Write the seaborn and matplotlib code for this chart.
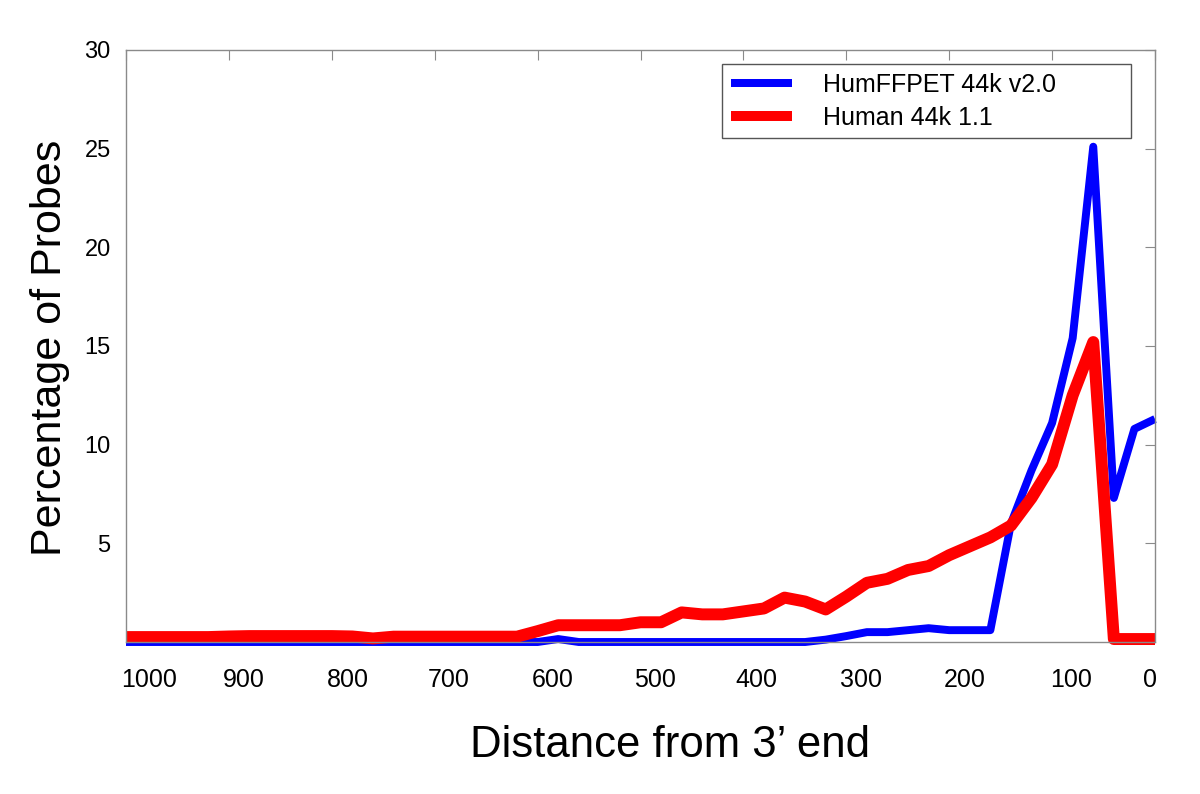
import matplotlib
matplotlib.use("Agg")
import matplotlib.pyplot as plt
import matplotlib.transforms as mtransforms
import pandas as pd
import seaborn as sns

# ---------------- data ----------------
distance = [0, 20, 40, 60, 80, 100, 120, 140, 160, 180,
            200, 220, 240, 260, 280, 300, 320, 340, 360, 380,
            400, 420, 440, 460, 480, 500, 520, 540, 560, 580,
            600, 620, 640, 660, 680, 700, 720, 740, 760, 780,
            800, 820, 840, 860, 880, 900, 920, 940, 960, 980, 1000]

humffpet_v2 = [11.3, 10.8, 7.3, 25.1, 15.4, 11.1, 8.7, 6.0, 0.6, 0.6,
               0.6, 0.7, 0.6, 0.5, 0.5, 0.3, 0.12, 0.0, 0.0, 0.0,
               0.0, 0.0, 0.0, 0.0, 0.0, 0.0, 0.0, 0.0, 0.0, 0.15,
               0.0, 0.0, 0.0, 0.0, 0.0, 0.0, 0.0, 0.0, 0.0, 0.0,
               0.0, 0.0, 0.0, 0.0, 0.0, 0.0, 0.0, 0.0, 0.0, 0.0, 0.0]

human_11 = [0.15, 0.15, 0.15, 15.2, 12.5, 9.0, 7.3, 5.9, 5.3, 4.85,
            4.4, 3.85, 3.65, 3.2, 3.0, 2.3, 1.65, 2.05, 2.25, 1.7,
            1.55, 1.4, 1.4, 1.5, 1.0, 1.0, 0.85, 0.85, 0.85, 0.85,
            0.55, 0.27, 0.27, 0.27, 0.27, 0.27, 0.27, 0.27, 0.18, 0.28,
            0.3, 0.3, 0.3, 0.3, 0.3, 0.28, 0.25, 0.25, 0.25, 0.25, 0.25]

series_names = ["HumFFPET 44k v2.0", "Human 44k 1.1"]
series_colors = ["#0000FF", "#FF0000"]
series_widths = [5.7, 8.6]

x_ticks = [1000, 900, 800, 700, 600, 500, 400, 300, 200, 100, 0]
y_ticks = [5, 10, 15, 20, 25, 30]

x_label = "Distance from 3\u2019 end"
y_label = "Percentage of Probes"

# ---------------- style ----------------
sns.set_style("white")
plt.rcParams["font.family"] = ["Liberation Sans", "DejaVu Sans"]
plt.rcParams["text.color"] = "black"
plt.rcParams["axes.labelcolor"] = "black"

df = pd.concat([
    pd.DataFrame({"distance": distance, "pct": humffpet_v2, "array": series_names[0]}),
    pd.DataFrame({"distance": distance, "pct": human_11, "array": series_names[1]}),
], ignore_index=True)

fig = plt.figure(figsize=(12, 7.94), dpi=100)
ax = fig.add_axes([126 / 1200, 1 - 642 / 794, 1029 / 1200, 592 / 794])

for name, col, lw in zip(series_names, series_colors, series_widths):
    sub = df[df["array"] == name]
    sns.lineplot(data=sub, x="distance", y="pct", color=col, linewidth=lw,
                 label=name, ax=ax, estimator=None, sort=True)

for ln in ax.get_lines():
    ln.set_solid_capstyle("butt")
    ln.set_solid_joinstyle("round")
    ln.set_clip_on(False)

ax.set_xlim(1000, 0)
ax.set_ylim(0, 30)
ax.set_xticks(x_ticks)
ax.set_xticklabels([str(t) for t in x_ticks])
ax.set_yticks(y_ticks)
ax.set_yticklabels([str(t) for t in y_ticks])

spine_col = "#8a8a8a"
for s in ax.spines.values():
    s.set_visible(True)
    s.set_color(spine_col)
    s.set_linewidth(1.0)

ax.tick_params(axis="both", direction="in", length=7, width=0.8, color=spine_col,
               top=True, right=True, labelcolor="black")
ax.tick_params(axis="x", pad=19, labelsize=18)
ax.tick_params(axis="y", pad=11, labelsize=17)

# the x tick labels in the original sit slightly right of their ticks
label_shift_px = [23, 15, 16, 14, 15, 14, 13, 15, 15, 19, -5]
for lab, dx in zip(ax.get_xticklabels(), label_shift_px):
    lab.set_transform(lab.get_transform() +
                      mtransforms.ScaledTranslation(dx / 100, 0, fig.dpi_scale_trans))

ax.set_xlabel(x_label, fontsize=31.5, color="black")
ax.set_ylabel(y_label, fontsize=31, color="black")
ax.xaxis.set_label_coords(0.529, -0.140)
ax.yaxis.set_label_coords(-0.054, 0.497)

leg = ax.legend(loc="upper left", bbox_to_anchor=(0.579, 0.851, 0.398, 0.125),
                mode="expand", borderaxespad=0, fontsize=18, frameon=True,
                fancybox=False, shadow=False, handlelength=2.45,
                handletextpad=1.25, labelspacing=0.35, borderpad=0.35)
frame = leg.get_frame()
frame.set_edgecolor("#555555")
frame.set_linewidth(1.0)
frame.set_facecolor("white")
frame.set_alpha(1.0)
for t in leg.get_texts():
    t.set_color("black")
for h, lw in zip(leg.get_lines(), [8 * 0.72, 10 * 0.72]):
    h.set_linewidth(lw)
    h.set_solid_capstyle("butt")

fig.savefig("out.png", dpi=100, facecolor="white")
